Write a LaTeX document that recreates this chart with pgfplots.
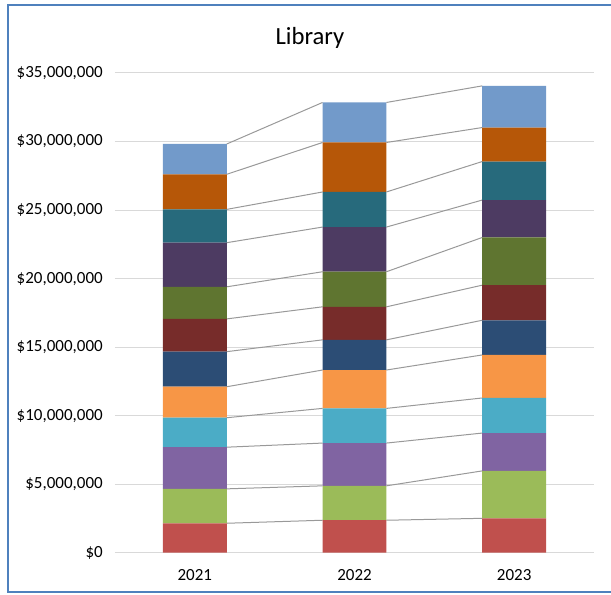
\documentclass[border=0pt]{standalone}
\usepackage{fontspec}
\setmainfont{Carlito}
\usepackage{pgfplots}
\usepackage{pgfplotstable}
\pgfplotsset{compat=1.18}

% Office 2010 palette and its darker shades
\definecolor{c1}{HTML}{C0504D}
\definecolor{c2}{HTML}{9BBB59}
\definecolor{c3}{HTML}{8064A2}
\definecolor{c4}{HTML}{4BACC6}
\definecolor{c5}{HTML}{F79646}
\definecolor{c6}{HTML}{2C4D75}
\definecolor{c7}{HTML}{772C2A}
\definecolor{c8}{HTML}{5F7530}
\definecolor{c9}{HTML}{4D3B62}
\definecolor{c10}{HTML}{276A7C}
\definecolor{c11}{HTML}{B65708}
\definecolor{c12}{HTML}{729ACA}
\definecolor{frame}{RGB}{79,129,189}

% segment values in millions of dollars
\pgfplotstableread{
x  s1   s2   s3   s4   s5   s6   s7   s8   s9   s10  s11  s12
0  2.15 2.51 3.04 2.15 2.26 2.56 2.39 2.34 3.22 2.43 2.56 2.21
1  2.37 2.51 3.12 2.53 2.80 2.20 2.41 2.56 3.26 2.56 3.61 2.92
2  2.51 3.46 2.76 2.56 3.14 2.53 2.56 3.48 2.73 2.81 2.48 3.04
}\segs

\pgfplotsset{
  libaxis/.style={
    width=359.25pt, height=359.8pt, scale only axis,
    at={(86.25pt,31.7pt)}, anchor=south west,
    xmin=-0.5, xmax=2.5, ymin=0, ymax=35,
    axis line style={draw=none},
    major tick length=0pt,
  },
  serline/.style={color=black!40, line width=0.75pt, mark=none},
}

\begin{document}
\begin{tikzpicture}
\useasboundingbox (0,0) rectangle (458.25pt,446.25pt);
\draw[frame, line width=1.8pt] (6pt,2.3pt) rectangle (470pt,442.5pt);
\node[font=\fontsize{18.5pt}{22pt}\selectfont] at (232.5pt,417.75pt) {Library};

% grid and series lines (behind the bars)
\begin{axis}[libaxis,
  ymajorgrids, major grid style={color=black!15, line width=0.75pt},
  ytick={0,5,...,35},
  yticklabels={\$0,{\$5,000,000},{\$10,000,000},{\$15,000,000},{\$20,000,000},{\$25,000,000},{\$30,000,000},{\$35,000,000}},
  yticklabel style={anchor=east, inner sep=0pt, xshift=-9pt, font=\fontsize{12.75pt}{15pt}\selectfont},
  xtick={0,1,2}, xticklabels={2021,2022,2023},
  xticklabel style={anchor=north, inner sep=0pt, yshift=-12.5pt, font=\fontsize{12.75pt}{15pt}\selectfont},
  unbounded coords=jump,
]
\addplot[serline] coordinates {(0.2,2.15) (0.8,2.37) (1,nan) (1.2,2.37) (1.8,2.51)};
\addplot[serline] coordinates {(0.2,4.66) (0.8,4.88) (1,nan) (1.2,4.88) (1.8,5.97)};
\addplot[serline] coordinates {(0.2,7.70) (0.8,8.00) (1,nan) (1.2,8.00) (1.8,8.73)};
\addplot[serline] coordinates {(0.2,9.85) (0.8,10.53) (1,nan) (1.2,10.53) (1.8,11.29)};
\addplot[serline] coordinates {(0.2,12.11) (0.8,13.33) (1,nan) (1.2,13.33) (1.8,14.43)};
\addplot[serline] coordinates {(0.2,14.67) (0.8,15.53) (1,nan) (1.2,15.53) (1.8,16.96)};
\addplot[serline] coordinates {(0.2,17.06) (0.8,17.94) (1,nan) (1.2,17.94) (1.8,19.52)};
\addplot[serline] coordinates {(0.2,19.40) (0.8,20.50) (1,nan) (1.2,20.50) (1.8,23.00)};
\addplot[serline] coordinates {(0.2,22.62) (0.8,23.76) (1,nan) (1.2,23.76) (1.8,25.73)};
\addplot[serline] coordinates {(0.2,25.05) (0.8,26.32) (1,nan) (1.2,26.32) (1.8,28.54)};
\addplot[serline] coordinates {(0.2,27.61) (0.8,29.93) (1,nan) (1.2,29.93) (1.8,31.02)};
\addplot[serline] coordinates {(0.2,29.82) (0.8,32.85) (1,nan) (1.2,32.85) (1.8,34.06)};
\end{axis}

% stacked bars
\begin{axis}[libaxis, ybar stacked, bar width=0.4,
  xtick=\empty, ytick=\empty]
\addplot[fill=c1, draw=none] table[x=x, y=s1] {\segs};
\addplot[fill=c2, draw=none] table[x=x, y=s2] {\segs};
\addplot[fill=c3, draw=none] table[x=x, y=s3] {\segs};
\addplot[fill=c4, draw=none] table[x=x, y=s4] {\segs};
\addplot[fill=c5, draw=none] table[x=x, y=s5] {\segs};
\addplot[fill=c6, draw=none] table[x=x, y=s6] {\segs};
\addplot[fill=c7, draw=none] table[x=x, y=s7] {\segs};
\addplot[fill=c8, draw=none] table[x=x, y=s8] {\segs};
\addplot[fill=c9, draw=none] table[x=x, y=s9] {\segs};
\addplot[fill=c10, draw=none] table[x=x, y=s10] {\segs};
\addplot[fill=c11, draw=none] table[x=x, y=s11] {\segs};
\addplot[fill=c12, draw=none] table[x=x, y=s12] {\segs};
\end{axis}
\end{tikzpicture}
\end{document}
